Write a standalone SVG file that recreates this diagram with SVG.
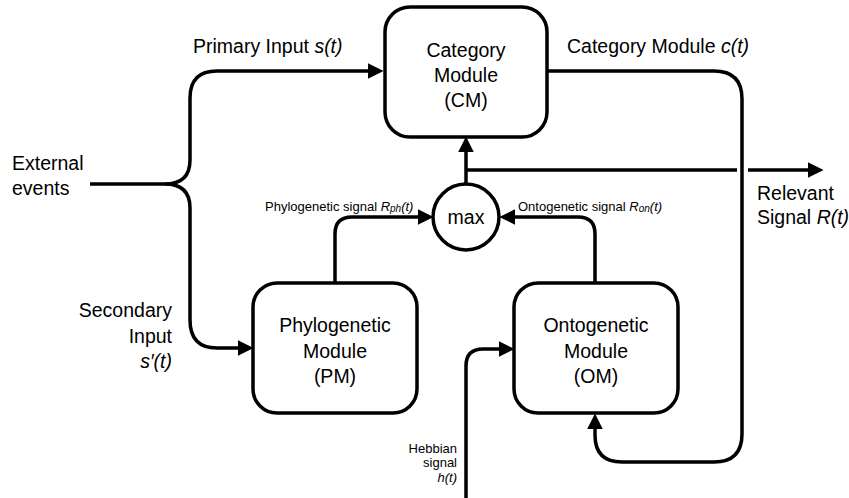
<svg xmlns="http://www.w3.org/2000/svg" width="849" height="498" viewBox="0 0 849 498">
<style>
.box{fill:#fff;stroke:#000;stroke-width:3.5}
.ln{fill:none;stroke:#000;stroke-width:3.5}
.t{font-family:"Liberation Sans",Arial,sans-serif;font-size:19.5px;fill:#000}
.s{font-family:"Liberation Sans",Arial,sans-serif;font-size:13px;fill:#000}
.c{text-anchor:middle}
.r{text-anchor:end}
.i{font-style:italic}
</style>
<defs>
<marker id="ah" markerUnits="userSpaceOnUse" markerWidth="16" markerHeight="16" viewBox="0 0 14 14" refX="10" refY="7" orient="auto">
<path d="M0,0 L14,7 L0,14 z" fill="#000"/>
</marker>
</defs>
<g id="connectors">
<path class="ln" d="M90 184 H165 Q190 184 190 160 V98 Q190 71 217 71 H379" marker-end="url(#ah)"/>
<path class="ln" d="M165 184 Q190 184 190 208 V320 Q190 348 217 348 H249" marker-end="url(#ah)"/>
<path class="ln" d="M335 283 V234 Q335 217 352 217 H429" marker-end="url(#ah)"/>
<path class="ln" d="M595 283 V234 Q595 217 578 217 H504" marker-end="url(#ah)"/>
<path class="ln" d="M466 184 V141" marker-end="url(#ah)"/>
<path class="ln" d="M466 170 H737"/>
<path class="ln" d="M748 170 H819" marker-end="url(#ah)"/>
<path class="ln" d="M547 71 H714 Q742 71 742 99 V434 Q742 462 714 462 H622 Q595 462 595 435 V418" marker-end="url(#ah)"/>
<path class="ln" d="M466 498 V366 Q466 349 483 349 H510" marker-end="url(#ah)"/>
</g>
<g id="cm">
<rect class="box" x="385" y="7" width="162" height="130" rx="25"/>
<text class="t c" x="466" y="57">Category</text>
<text class="t c" x="466" y="82">Module</text>
<text class="t c" x="466" y="107">(CM)</text>
</g>
<g id="pm">
<rect class="box" x="253" y="283" width="164" height="130" rx="24"/>
<text class="t c" x="335" y="332">Phylogenetic</text>
<text class="t c" x="335" y="358">Module</text>
<text class="t c" x="335" y="383">(PM)</text>
</g>
<g id="om">
<rect class="box" x="514" y="283" width="164" height="130" rx="24"/>
<text class="t c" x="596" y="332">Ontogenetic</text>
<text class="t c" x="596" y="358">Module</text>
<text class="t c" x="596" y="383">(OM)</text>
</g>
<g id="max">
<circle cx="466" cy="217" r="33" fill="#fff" stroke="#000" stroke-width="3.5"/>
<text class="t c" x="466" y="224">max</text>
</g>
<g id="labels">
<text class="t" x="193" y="53">Primary Input <tspan class="i">s(t)</tspan></text>
<text class="t" x="567" y="53">Category Module <tspan class="i">c(t)</tspan></text>
<text class="t" x="12" y="170">External</text>
<text class="t" x="12" y="195">events</text>
<text class="t" x="757" y="200">Relevant</text>
<text class="t" x="757" y="224">Signal <tspan class="i">R(t)</tspan></text>
<text class="t r" x="172" y="317">Secondary</text>
<text class="t r" x="172" y="343">Input</text>
<text class="t r i" x="172" y="368">s′(t)</text>
<text class="s" x="265" y="211">Phylogenetic signal <tspan class="i">R<tspan font-size="10" dy="1">ph</tspan><tspan dy="-1">(t)</tspan></tspan></text>
<text class="s" x="518" y="211">Ontogenetic signal <tspan class="i">R<tspan font-size="10" dy="1">on</tspan><tspan dy="-1">(t)</tspan></tspan></text>
<text class="s r" x="457" y="453">Hebbian</text>
<text class="s r" x="457" y="467">signal</text>
<text class="s r i" x="457" y="482">h(t)</text>
</g>
</svg>
